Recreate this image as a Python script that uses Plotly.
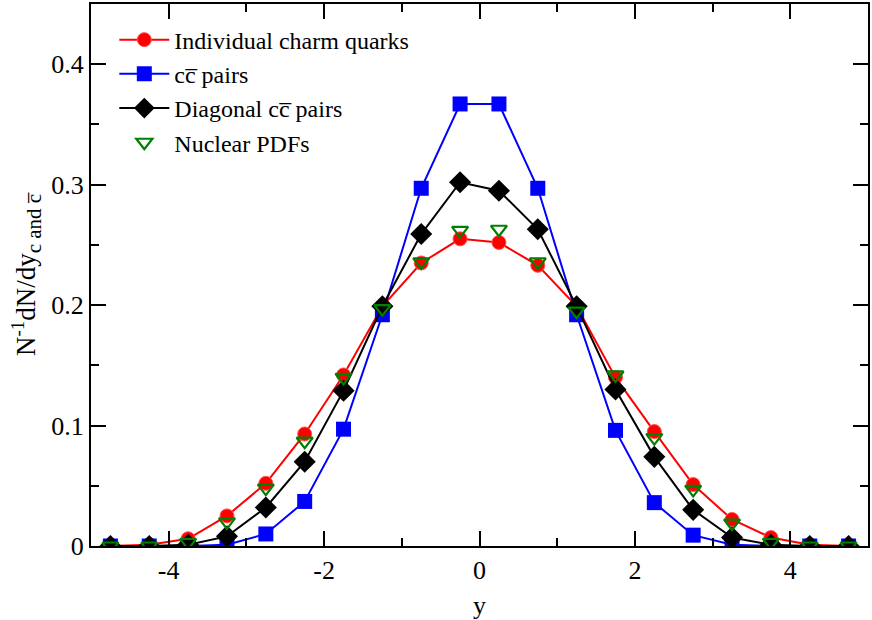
import plotly.graph_objects as go

# rapidity bin centres
y_bins = [-4.75, -4.25, -3.75, -3.25, -2.75, -2.25, -1.75, -1.25, -0.75, -0.25,
          0.25, 0.75, 1.25, 1.75, 2.25, 2.75, 3.25, 3.75, 4.25, 4.75]

individual = [0.000, 0.001, 0.006, 0.025, 0.052, 0.093, 0.142, 0.199, 0.235, 0.255,
              0.252, 0.233, 0.199, 0.140, 0.095, 0.051, 0.022, 0.007, 0.001, 0.000]
pairs = [0.000, 0.000, 0.000, 0.001, 0.010, 0.037, 0.097, 0.192, 0.297, 0.367,
         0.367, 0.297, 0.192, 0.096, 0.036, 0.009, 0.001, 0.000, 0.000, 0.000]
diagonal = [0.000, 0.000, 0.001, 0.008, 0.032, 0.070, 0.129, 0.199, 0.259, 0.302,
            0.295, 0.263, 0.199, 0.130, 0.074, 0.030, 0.007, 0.001, 0.000, 0.000]
nuclear = [0.000, 0.000, 0.003, 0.020, 0.048, 0.087, 0.140, 0.197, 0.236, 0.262,
           0.263, 0.236, 0.195, 0.142, 0.090, 0.047, 0.019, 0.003, 0.000, 0.000]

x_tickvals = [-4, -2, 0, 2, 4]
x_ticktext = ["-4", "-2", "0", "2", "4"]
y_tickvals = [0, 0.1, 0.2, 0.3, 0.4]
y_ticktext = ["0", "0.1", "0.2", "0.3", "0.4"]

CBAR = "c\u0305"
FONT = "Liberation Serif"

fig = go.Figure()

fig.add_trace(go.Scatter(
    x=y_bins, y=individual, name="Individual charm quarks",
    mode="lines+markers",
    line=dict(color="#ff0000", width=2),
    marker=dict(symbol="circle", size=14, color="#ff0000",
                line=dict(color="#ff5050", width=1)),
))
fig.add_trace(go.Scatter(
    x=y_bins, y=pairs, name=f"c{CBAR} pairs",
    mode="lines+markers",
    line=dict(color="#0000ff", width=2),
    marker=dict(symbol="square", size=15, color="#0000ff"),
))
fig.add_trace(go.Scatter(
    x=y_bins, y=diagonal, name=f"Diagonal c{CBAR} pairs",
    mode="lines+markers",
    line=dict(color="#000000", width=2),
    marker=dict(symbol="diamond", size=17, color="#000000"),
))
fig.add_trace(go.Scatter(
    x=y_bins, y=nuclear, name="Nuclear PDFs",
    mode="markers",
    marker=dict(symbol="triangle-down-open", size=14, color="#008000",
                line=dict(width=2.2)),
))

axis_common = dict(
    showline=True, linecolor="black", linewidth=2, mirror="allticks",
    ticks="inside", tickcolor="black", tickwidth=2, ticklen=15,
    showgrid=False, zeroline=False, tickmode="array",
    tickfont=dict(family=FONT, size=26, color="black"),
)

fig.update_xaxes(
    range=[-5, 5], tickvals=x_tickvals, ticktext=x_ticktext,
    minor=dict(ticks="inside", dtick=1, tick0=0, ticklen=8,
               tickcolor="black", tickwidth=2),
    title=dict(text="y", font=dict(family=FONT, size=26, color="black"), standoff=12),
    **axis_common,
)
fig.update_yaxes(
    range=[0, 0.45], tickvals=y_tickvals, ticktext=y_ticktext,
    minor=dict(ticks="inside", dtick=0.05, tick0=0, ticklen=8,
               tickcolor="black", tickwidth=2),
    title=dict(
        text=(f"N<sup>-1</sup>dN/dy<sub><span style='font-size:21px'>"
              f"c and {CBAR}</span></sub>"),
        font=dict(family=FONT, size=27, color="black"), standoff=8,
    ),
    **axis_common,
)

fig.update_layout(
    width=872, height=620,
    margin=dict(l=91, r=3, t=2, b=74),
    plot_bgcolor="white", paper_bgcolor="white",
    font=dict(family=FONT, color="black"),
    legend=dict(
        x=0.03, y=0.975, xanchor="left", yanchor="top",
        bgcolor="rgba(0,0,0,0)",
        font=dict(family=FONT, size=24, color="black"),
        itemwidth=50, tracegroupgap=0,
    ),
    showlegend=True,
)

# page body margin would shift the figure; drop it
fig.write_html("out.html", config={"displayModeBar": False},
               post_script="document.body.style.margin='0';")
